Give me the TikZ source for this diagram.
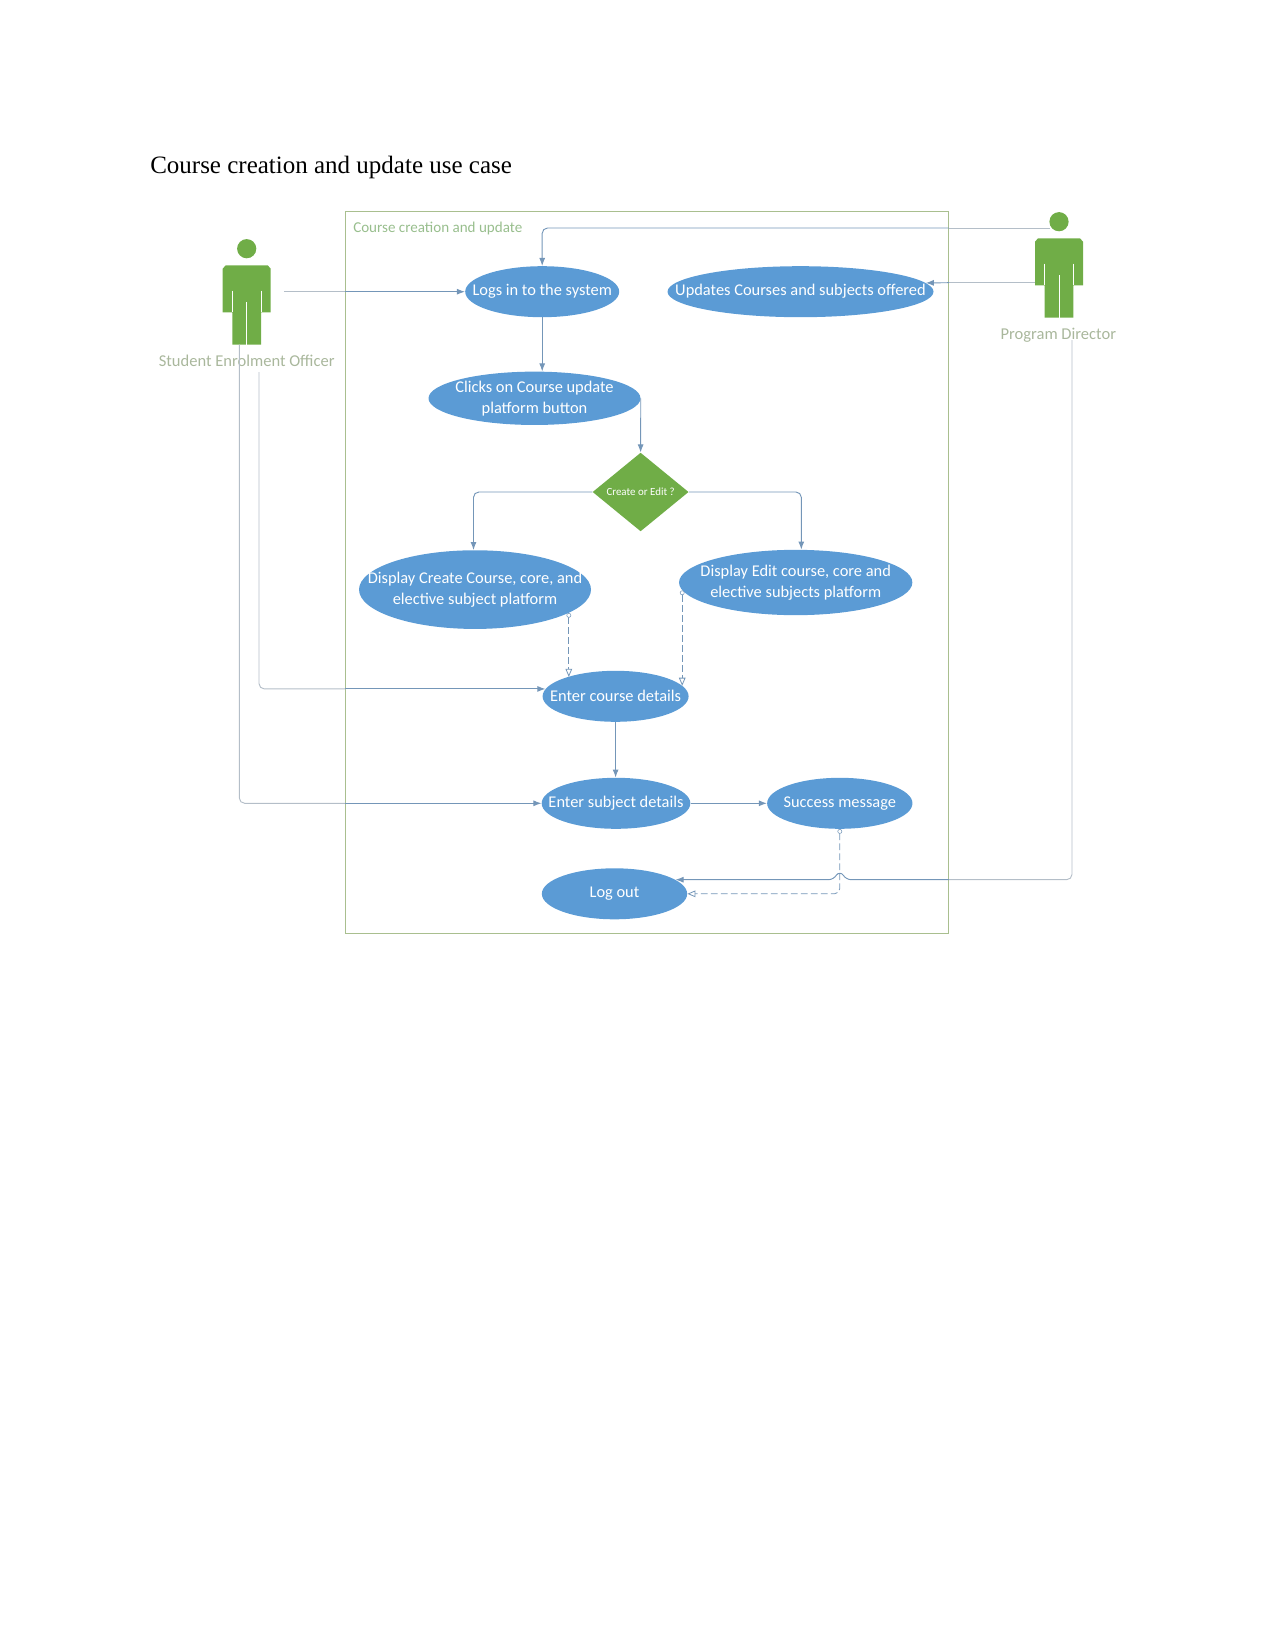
\documentclass[tikz,border=0pt]{standalone}
\usepackage{fontspec}
\setmainfont{Liberation Serif}
\newfontfamily\diagfont{Carlito}
\usetikzlibrary{calc,shapes.geometric,arrows.meta}

\definecolor{usecaseblue}{HTML}{5B9BD5}
\definecolor{actorgreen}{HTML}{70AD47}
\definecolor{framegreen}{HTML}{A9BF8F}
\definecolor{labelgrey}{HTML}{A9B79C}
\definecolor{linkblue}{HTML}{7496B8}
\definecolor{linkpale}{HTML}{B4BEC8}

\tikzset{
  usecase/.style={ellipse, fill=usecaseblue, text=white, inner xsep=-30pt, inner ysep=-5pt, align=center,
    font=\diagfont\fontsize{12.3}{15.5}\selectfont},
  link/.style={draw=linkblue, line width=.7pt, rounded corners=4pt, -{Latex[length=6pt,width=4.5pt]}},
  linkout/.style={draw=linkpale, line width=.7pt, rounded corners=4pt},
  include/.style={draw=linkblue, line width=.6pt, dash pattern=on 5pt off 2.5pt, rounded corners=4pt,
    {Circle[length=3.5pt,fill=white,line width=.4pt]}-{Triangle[open,length=6pt,width=5pt,fill=white]}},
  actorlabel/.style={text=labelgrey, font=\diagfont\fontsize{12.4}{14}\selectfont}
}

\begin{document}
\begin{tikzpicture}[x=.75pt,y=-.75pt]
  \useasboundingbox (0,0) rectangle (1275,1651);

  \node[anchor=base west,inner sep=0pt,font=\fontsize{18.75}{23}\selectfont] (title) at (150,174) {Course creation and update use case};

  \node[draw=framegreen,line width=.6pt,inner sep=0pt,minimum width=452pt,minimum height=541pt] (frame) at (647.2,572.5) {};
  \node[anchor=west,inner sep=0pt,text=labelgrey!90!green,font=\diagfont\fontsize{11.3}{13}\selectfont] (frameLabel) at (353,228) {Course creation and update};

  % actors
  \foreach \ax/\ay in {246.7/248.7, 1059/221.7}
  {
    \begin{scope}[shift={(\ax,\ay)}]
      \fill[actorgreen] (0,0) circle (7.2pt);
      \fill[actorgreen] (-21,16.6) -- (21,16.6) -- (24,20) -- (24,63.6) -- (14.4,63.6) -- (14.4,96)
        -- (-14.4,96) -- (-14.4,63.6) -- (-24,63.6) -- (-24,20) -- cycle;
      \draw[white,line width=.5pt] (0,53.5) -- (0,96);
      \draw[white,line width=.5pt] (-14.4,42) -- (-14.4,63.6);
      \draw[white,line width=.5pt] (14.4,42) -- (14.4,63.6);
    \end{scope}
  }
  \node[actorlabel] (enrolOfficer) at (246.7,361) {Student Enrolment Officer};
  \node[actorlabel] (progDirector) at (1058.3,335) {Program Director};

  % use cases
  \node[usecase,minimum width=115.5pt,minimum height=38.25pt] (logsIn) at (542.2,291.7) {Logs in to the system};
  \node[usecase,minimum width=199.5pt,minimum height=38.25pt] (updates) at (800.5,291.7) {Updates Courses and subjects offered};
  \node[usecase,minimum width=159pt,minimum height=40pt] (clicks) at (534.5,398.3) {Clicks on Course update\\platform button};
  \node[diamond,fill=actorgreen,inner sep=0pt,minimum width=72pt,minimum height=59pt,text=white,font=\diagfont\fontsize{8.2}{9}\selectfont] (choice) at (640.6,492) {Create or Edit ?};
  \node[usecase,minimum width=174pt,minimum height=59pt] (create) at (475,589.6) {Display Create Course, core, and\\elective subject platform};
  \node[usecase,minimum width=175pt,minimum height=49pt] (edit) at (795.7,582.5) {Display Edit course, core and\\elective subjects platform};
  \node[usecase,minimum width=109.5pt,minimum height=38.25pt] (course) at (615.6,696.3) {Enter course details};
  \node[usecase,minimum width=111.5pt,minimum height=38.25pt] (subject) at (616,803.3) {Enter subject details};
  \node[usecase,minimum width=109pt,minimum height=38.25pt] (success) at (839.8,803.3) {Success message};
  \node[usecase,minimum width=109pt,minimum height=38.25pt] (logOut) at (614.5,893.8) {Log out};

  % free ends at the actors
  \coordinate (enrolArm) at (284,291.7);
  \coordinate (enrolLegA) at (259,372);
  \coordinate (enrolLegB) at (239.3,344.7);
  \coordinate (dirHead) at (1050,228);
  \coordinate (dirArm) at (1035,282.7);
  \coordinate (dirLeg) at (1072,340);
  \coordinate (jump) at (success.south |- logOut.13);

  % outer part of the long lines
  \draw[linkout] (enrolArm) -- (frame.west |- logsIn.west);
  \draw[linkout] (enrolLegA) |- (frame.west |- course.174);
  \draw[linkout] (enrolLegB) |- (frame.west |- subject.west);
  \draw[linkout] (dirHead) -- (frame.east |- dirHead);
  \draw[linkout] (dirArm) -- (frame.east |- dirArm);
  \draw[linkout] (dirLeg) |- (frame.east |- logOut.13);

  % inner part
  \draw[link] (frame.west |- logsIn.west) -- (logsIn.west);
  \draw[link] (frame.west |- course.174) -- (course.174);
  \draw[link] (frame.west |- subject.west) -- (subject.west);
  \draw[link] (frame.east |- dirHead) -| (logsIn.north);
  \draw[link] (frame.east |- dirArm) -- (updates.4);
  \draw[link] (frame.east |- logOut.13) -- ($(jump)+(6,0)$) .. controls ($(jump)+(2,-7)$) and ($(jump)+(-2,-7)$) .. ($(jump)+(-6,0)$) -- (logOut.13);

  \draw[link] (logsIn.south) -- (logsIn.south |- clicks.north);
  \draw[link] (clicks.east) -- (choice.north);
  \draw[link] (choice.west) -| ($(create.north)+(-1.5,0)$);
  \draw[link] (choice.east) -| ($(edit.north)+(5.6,0)$);
  \draw[link] (course.south) -- (course.south |- subject.north);
  \draw[link] (subject.east) -- (success.west);

  \draw[include] (create.-14.7) -- (create.-14.7 |- course.158);
  \draw[include] (edit.184) -- (edit.184 |- course.9);
  \draw[include] (success.south) |- (logOut.east);
\end{tikzpicture}
\end{document}
